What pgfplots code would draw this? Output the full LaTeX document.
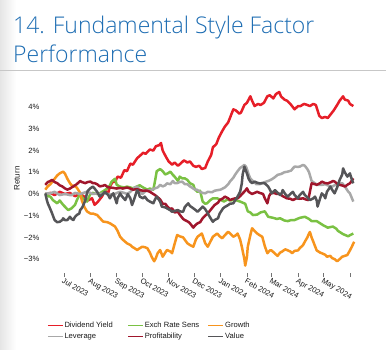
\documentclass[border=0pt]{standalone}
\usepackage{fontspec}
\setmainfont{Liberation Sans}
\newfontfamily\titlefont{Open Sans Light}
\usepackage{pgfplots}
\pgfplotsset{compat=1.18}
\definecolor{cDiv}{RGB}{230,30,40}
\definecolor{cExch}{RGB}{122,193,67}
\definecolor{cGrowth}{RGB}{247,148,29}
\definecolor{cLev}{RGB}{168,168,168}
\definecolor{cProf}{RGB}{160,22,44}
\definecolor{cVal}{RGB}{85,85,88}
\definecolor{cTitle}{RGB}{28,108,178}
\newcommand{\smallfont}{\fontsize{7.6bp}{8.7bp}\selectfont}
\begin{document}
\begin{tikzpicture}
\useasboundingbox (0bp,0bp) rectangle (386bp,350bp);
\shade[left color=black!10, right color=white] (0bp,0bp) rectangle (16bp,350bp);
\draw[black!22, line width=0.8bp] (0bp,280bp) -- (386bp,280bp);
\node[anchor=base west, inner sep=0pt, text=cTitle, font=\titlefont\fontsize{23bp}{27bp}\selectfont] at (13bp,316bp) {14. Fundamental Style Factor};
\node[anchor=base west, inner sep=0pt, text=cTitle, font=\titlefont\fontsize{23bp}{27bp}\selectfont] at (13bp,287bp) {Performance};
\node[rotate=90, inner sep=0pt, font=\fontsize{8bp}{9bp}\selectfont, text=black!90] at (17bp,171.5bp) {Return};
\begin{axis}[
  at={(44.4bp,77bp)}, anchor=south west,
  scale only axis, width=310.6bp, height=183.2bp,
  xmin=-23, xmax=342, ymin=-3.64, ymax=4.8,
  axis line style={draw=none},
  xtick={0,31,62,92,123,153,184,215,244,275,305,336},
  xticklabels={Jul 2023,Aug 2023,Sep 2023,Oct 2023,Nov 2023,Dec 2023,Jan 2024,Feb 2024,Mar 2024,Apr 2024,May 2024,{}},
  ytick={-3,-2,-1,0,1,2,3,4},
  yticklabels={−3\%,−2\%,−1\%,0\%,1\%,2\%,3\%,4\%},
  xtick pos=bottom, ytick pos=left,
  tick align=outside, major tick length=4bp,
  x tick style={draw=black!55, line width=0.6bp},
  y tick style={draw=none},
  every tick label/.append style={font=\smallfont, text=black!90},
  xticklabel style={rotate=-30, anchor=north west, inner sep=0.5bp},
  yticklabel style={anchor=east, inner sep=0.8bp},
  every axis plot/.append style={line width=2.5bp, line join=round},
  legend columns=3,
  legend cell align=left,
  legend image code/.code={\draw[#1, line width=1.3bp] (0bp,0bp) -- (15bp,0bp);},
  legend style={at={(axis description cs:0.0084,-0.259)}, anchor=north west, draw=none, fill=none, inner sep=0pt, font=\smallfont, text=black!90, row sep=2bp,
    nodes={inner sep=1bp, text height=5.5bp, text depth=1.5bp},
    /tikz/every even column/.append style={column sep=7bp}},
]
\addplot[cDiv] coordinates {(-22,0.0)(-16,0.05)(-11,-0.05)(-5,0.1)(1,0.0)(7,0.05)(13,-0.1)(19,0.0)(25,-0.15)(28,-0.3)(33,-0.2)(36,-0.5)(40,-0.35)(45,-0.1)(48,0.15)(52,0.05)(54,0.35)(58,0.6)(60,0.55)(63,0.8)(67,0.75)(71,1.1)(74,1.05)(78,1.4)(81,1.35)(86,1.65)(89,1.75)(93,1.9)(96,1.85)(101,2.05)(105,2.0)(108,2.2)(112,2.25)(114,2.35)(116,2.0)(120,1.7)(123,1.5)(127,1.35)(130,1.45)(134,1.3)(137,1.4)(141,1.55)(145,1.45)(148,1.5)(152,1.3)(155,1.25)(159,1.3)(162,1.15)(166,1.2)(169,1.5)(173,1.8)(175,2.15)(179,2.3)(182,2.6)(186,2.9)(189,3.1)(193,3.3)(196,3.6)(199,3.9)(202,3.85)(206,3.7)(208,3.75)(212,4.1)(215,4.2)(219,4.5)(221,4.3)(224,4.05)(228,4.15)(231,4.1)(235,4.2)(239,4.5)(242,4.55)(246,4.4)(249,4.6)(253,4.7)(255,4.5)(259,4.35)(262,4.3)(266,4.15)(269,4.0)(271,3.9)(275,4.05)(278,4.05)(282,4.15)(286,4.1)(289,4.05)(293,4.15)(296,4.1)(300,3.6)(303,3.5)(307,3.55)(310,3.5)(314,3.7)(317,3.85)(321,4.1)(324,4.3)(328,4.5)(330,4.35)(334,4.3)(336,4.15)(340,4.05)};
\addlegendentry{\makebox[55bp][l]{Dividend Yield}}
\addplot[cExch] coordinates {(-22,0.03)(-19,-0.1)(-16,-0.12)(-13,-0.28)(-8,-0.43)(-5,-0.3)(-1,-0.5)(1,-0.58)(5,-0.74)(7,-0.7)(9,-0.66)(13,-0.5)(15,-0.3)(19,0.03)(22,-0.2)(27,-0.35)(31,0.0)(34,0.05)(39,0.0)(42,0.03)(47,0.15)(51,0.26)(54,0.4)(56,0.57)(60,0.7)(62,0.42)(66,0.34)(71,0.3)(74,0.34)(78,0.3)(81,0.26)(86,0.35)(89,0.4)(93,0.3)(98,0.2)(101,0.25)(105,0.2)(107,0.6)(109,1.05)(113,1.15)(116,1.05)(119,0.9)(122,0.95)(125,1.03)(128,0.88)(130,0.8)(134,0.6)(136,0.8)(139,0.72)(142,0.72)(145,0.65)(148,0.5)(152,0.42)(154,0.2)(157,0.1)(160,0.15)(163,-0.35)(166,-0.45)(168,-0.43)(172,-0.28)(175,-0.2)(180,-0.2)(183,-0.25)(188,-0.35)(192,-0.25)(195,-0.3)(199,-0.28)(203,-0.3)(207,-0.35)(210,-0.4)(213,-0.45)(216,-0.8)(219,-0.85)(222,-0.97)(227,-0.95)(231,-0.85)(236,-0.8)(240,-1.05)(246,-1.1)(250,-1.15)(254,-1.12)(259,-1.22)(263,-1.25)(267,-1.2)(271,-1.2)(277,-1.1)(283,-1.05)(288,-1.15)(291,-1.25)(297,-1.25)(301,-1.35)(305,-1.45)(310,-1.55)(316,-1.5)(320,-1.6)(322,-1.7)(328,-1.85)(331,-1.9)(334,-1.95)(336,-1.9)(340,-1.82)};
\addlegendentry{\makebox[55bp][l]{Exch Rate Sens}}
\addplot[cGrowth] coordinates {(-22,0.2)(-19,0.35)(-16,0.45)(-13,0.6)(-8,0.85)(-5,0.95)(-1,1.03)(1,0.95)(4,0.7)(7,0.5)(9,0.4)(13,0.35)(15,0.3)(19,0.05)(21,-0.3)(24,-0.6)(27,-0.8)(31,-0.9)(34,-0.9)(39,-0.97)(42,-1.1)(46,-1.27)(51,-1.3)(54,-1.35)(58,-1.45)(60,-1.5)(63,-1.7)(66,-1.97)(69,-2.1)(74,-2.27)(78,-2.35)(80,-2.43)(83,-2.5)(86,-2.58)(89,-2.5)(92,-2.43)(95,-2.45)(98,-2.5)(101,-2.7)(103,-2.89)(106,-3.1)(108,-2.95)(110,-2.73)(113,-2.58)(116,-2.89)(119,-2.7)(121,-2.58)(125,-2.65)(127,-2.73)(130,-2.3)(133,-1.89)(136,-1.95)(140,-2.0)(145,-2.27)(148,-2.35)(152,-2.43)(155,-2.1)(157,-1.97)(162,-1.82)(166,-2.27)(169,-2.43)(172,-2.2)(175,-1.97)(180,-1.82)(183,-1.95)(186,-2.04)(189,-1.9)(193,-1.74)(196,-1.85)(199,-1.97)(202,-1.9)(204,-1.82)(207,-2.1)(209,-2.43)(212,-3.0)(213,-3.3)(215,-2.9)(216,-2.43)(219,-1.9)(221,-1.58)(224,-1.7)(227,-1.82)(230,-1.9)(233,-1.97)(236,-2.4)(239,-2.73)(242,-2.6)(244,-2.6)(248,-2.75)(251,-2.85)(254,-2.7)(256,-2.66)(260,-2.55)(262,-2.58)(266,-2.65)(268,-2.73)(271,-2.62)(275,-2.6)(277,-2.5)(281,-2.35)(283,-2.2)(286,-2.0)(287,-1.9)(289,-1.75)(291,-2.0)(294,-2.3)(297,-2.6)(301,-2.7)(303,-2.73)(307,-2.8)(309,-2.89)(313,-2.85)(315,-2.95)(318,-3.0)(321,-3.1)(324,-3.0)(327,-2.89)(330,-2.85)(333,-2.81)(336,-2.6)(338,-2.45)(341,-2.2)};
\addlegendentry{\makebox[55bp][l]{Growth}}
\addplot[cLev] coordinates {(-22,0.03)(-16,0.03)(-11,0.1)(-5,-0.05)(1,0.0)(7,-0.05)(9,-0.05)(13,0.05)(19,0.0)(25,0.08)(27,0.1)(31,0.05)(34,0.0)(39,0.03)(42,0.0)(48,0.03)(54,-0.02)(58,-0.05)(62,0.05)(66,0.1)(71,0.05)(74,0.0)(78,0.1)(80,0.18)(83,0.3)(86,0.34)(89,0.2)(92,0.0)(95,0.1)(98,0.18)(101,0.15)(103,0.2)(107,0.26)(110,0.3)(113,0.42)(116,0.35)(119,0.4)(121,0.49)(125,0.45)(128,0.6)(130,0.5)(133,0.5)(136,0.55)(139,0.57)(142,0.45)(145,0.45)(148,0.35)(152,0.25)(154,0.2)(156,0.2)(160,0.1)(163,0.05)(166,0.03)(169,0.1)(174,0.08)(177,0.15)(181,0.18)(184,0.2)(189,0.3)(193,0.45)(195,0.57)(199,0.75)(201,0.88)(204,1.05)(207,1.2)(209,1.25)(212,1.34)(214,1.25)(215,1.15)(217,0.9)(219,0.72)(222,0.6)(226,0.45)(230,0.45)(236,0.55)(240,0.6)(243,0.65)(247,0.75)(251,0.88)(255,0.92)(259,1.0)(263,1.03)(267,1.08)(269,1.18)(271,1.26)(275,1.25)(277,1.26)(281,1.34)(283,1.3)(286,1.15)(288,1.0)(291,0.6)(295,0.49)(298,0.42)(303,0.42)(307,0.45)(311,0.38)(315,0.34)(318,0.4)(322,0.45)(327,0.5)(330,0.35)(334,0.11)(336,0.03)(340,-0.35)};
\addlegendentry{\makebox[55bp][l]{Leverage}}
\addplot[cProf] coordinates {(-22,0.42)(-19,0.55)(-16,0.6)(-14,0.65)(-11,0.55)(-8,0.5)(-5,0.4)(-2,0.35)(1,0.26)(4,0.2)(7,0.25)(9,0.3)(13,0.4)(15,0.45)(19,0.6)(21,0.55)(25,0.5)(28,0.55)(31,0.57)(34,0.5)(36,0.5)(39,0.45)(42,0.35)(46,0.38)(48,0.42)(52,0.3)(54,0.3)(58,0.28)(62,0.25)(66,0.28)(69,0.25)(74,0.3)(78,0.25)(81,0.2)(86,0.22)(89,0.18)(93,0.15)(98,0.15)(101,0.1)(103,0.05)(107,-0.05)(110,-0.15)(113,-0.25)(116,-0.45)(119,-0.45)(122,-0.6)(125,-0.7)(127,-0.66)(130,-0.85)(134,-0.82)(136,-0.95)(140,-1.15)(142,-1.2)(146,-1.28)(148,-1.35)(152,-1.55)(154,-1.45)(157,-1.35)(160,-1.3)(163,-1.12)(166,-1.0)(169,-0.89)(172,-0.75)(175,-0.6)(177,-0.51)(181,-0.4)(183,-0.28)(187,-0.2)(189,-0.12)(193,-0.2)(195,-0.28)(197,-0.25)(201,-0.2)(204,-0.2)(207,-0.1)(210,0.03)(213,0.15)(215,0.26)(217,0.1)(221,0.0)(224,0.05)(227,0.1)(230,0.05)(234,0.0)(236,-0.2)(239,-0.43)(241,-0.1)(243,0.03)(247,0.05)(250,0.0)(254,0.0)(257,-0.1)(262,-0.2)(266,-0.22)(269,-0.28)(273,-0.2)(277,-0.22)(281,-0.2)(284,-0.25)(287,-0.28)(289,0.1)(291,0.49)(295,0.45)(297,0.42)(301,0.5)(303,0.57)(307,0.5)(310,0.49)(314,0.55)(316,0.6)(318,0.57)(322,0.45)(324,0.42)(328,0.38)(330,0.34)(334,0.45)(336,0.49)(338,0.6)(340,0.72)};
\addlegendentry{\makebox[55bp][l]{Profitability}}
\addplot[cVal] coordinates {(-22,0.03)(-20,-0.3)(-19,-0.43)(-16,-0.7)(-14,-0.89)(-12,-1.1)(-11,-1.2)(-8,-1.3)(-5,-1.28)(-2,-1.2)(-1,-1.12)(1,-1.2)(4,-1.2)(6,-1.1)(7,-1.05)(9,-1.15)(11,-1.2)(13,-1.05)(15,-0.97)(18,-0.9)(19,-0.74)(21,-0.65)(22,-0.58)(25,-0.3)(27,0.03)(28,0.15)(31,0.26)(34,0.34)(36,0.25)(39,0.1)(42,-0.12)(46,0.0)(48,0.1)(52,-0.05)(54,-0.2)(56,-0.05)(58,0.03)(60,-0.2)(62,-0.43)(63,-0.2)(66,0.03)(68,-0.1)(72,-0.28)(74,-0.1)(75,0.0)(78,-0.2)(80,-0.51)(82,-0.3)(86,0.18)(88,0.05)(89,-0.12)(93,-0.2)(95,-0.12)(98,-0.28)(101,-0.35)(105,-0.43)(107,-0.25)(109,-0.12)(113,-0.35)(115,-0.58)(119,-0.62)(121,-0.66)(125,-0.75)(127,-0.82)(130,-0.78)(134,-0.74)(136,-0.8)(140,-0.82)(142,-0.6)(146,-0.43)(148,-0.55)(152,-0.66)(155,-0.75)(157,-0.82)(160,-0.7)(163,-0.58)(166,-0.7)(169,-0.89)(172,-1.1)(175,-1.28)(177,-1.2)(181,-1.12)(183,-0.9)(187,-0.66)(189,-0.6)(193,-0.51)(195,-0.45)(199,-0.43)(201,-0.3)(204,-0.12)(207,0.1)(209,0.49)(210,0.9)(212,1.26)(213,1.15)(215,0.95)(217,0.7)(219,0.57)(221,0.5)(224,0.57)(227,0.52)(230,0.49)(234,0.5)(236,0.49)(240,0.34)(242,0.2)(244,0.03)(248,0.18)(250,0.1)(254,-0.05)(256,0.05)(257,0.18)(260,0.0)(263,-0.12)(266,0.0)(269,0.1)(271,-0.05)(275,-0.2)(277,-0.05)(281,0.1)(283,-0.05)(286,-0.15)(289,-0.28)(293,-0.2)(295,-0.12)(297,-0.3)(298,-0.58)(301,-0.2)(303,0.03)(306,-0.1)(307,-0.2)(309,0.1)(313,0.34)(315,0.2)(318,0.03)(321,0.3)(324,0.65)(327,0.9)(328,1.18)(330,1.0)(333,0.8)(335,0.9)(336,0.95)(338,0.7)(340,0.49)};
\addlegendentry{\makebox[55bp][l]{Value}}
\end{axis}
\end{tikzpicture}
\end{document}
